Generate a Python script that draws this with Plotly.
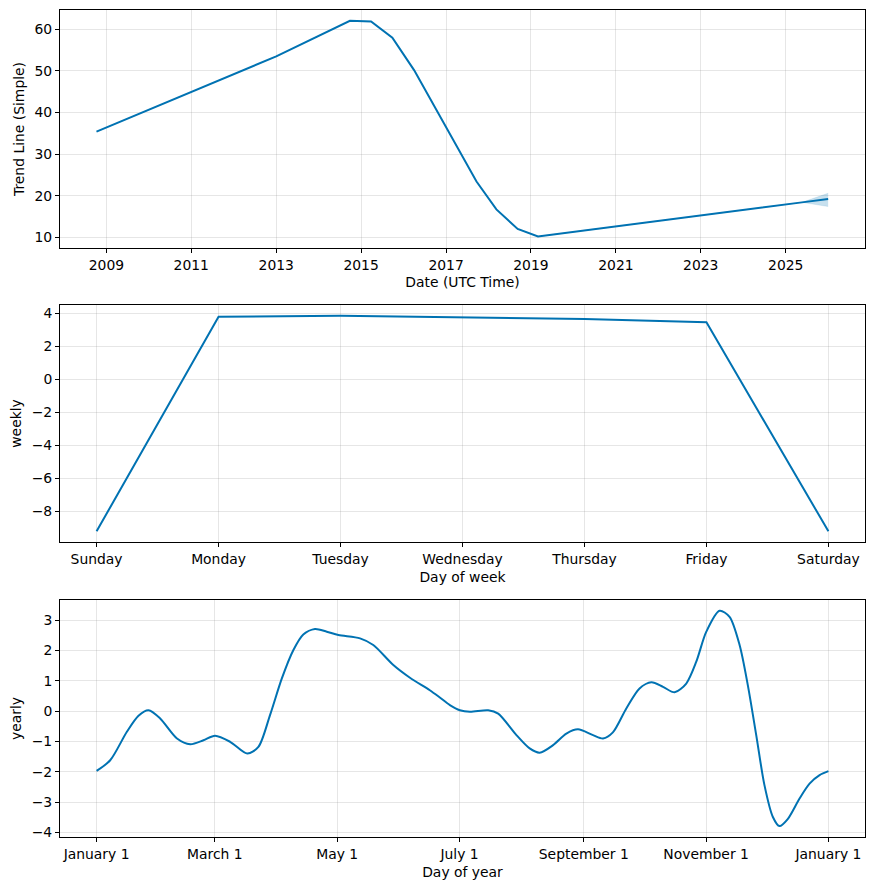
import pandas as pd
import plotly.graph_objects as go
from plotly.subplots import make_subplots

# ---------------- data ----------------
trend_dates = ["2008-10-08", "2013-01-01", "2014-09-27", "2015-03-28", "2015-09-27",
               "2016-04-01", "2017-09-20", "2018-03-10", "2018-09-09", "2019-03-03",
               "2025-05-20", "2026-01-01"]
trend_values = [35.4, 53.5, 62.07, 61.9, 58.0, 50.2, 23.4, 16.7, 12.0, 10.2, 18.4, 19.2]
trend_lower = [35.4, 53.5, 62.07, 61.9, 58.0, 50.2, 23.4, 16.7, 12.0, 10.2, 18.4, 17.4]
trend_upper = [35.4, 53.5, 62.07, 61.9, 58.0, 50.2, 23.4, 16.7, 12.0, 10.2, 18.4, 20.6]
year_ticks = ["2009", "2011", "2013", "2015", "2017", "2019", "2021", "2023", "2025"]

week_days = ["Sunday", "Monday", "Tuesday", "Wednesday", "Thursday", "Friday", "Saturday"]
weekly_values = [-9.22, 3.78, 3.84, 3.74, 3.64, 3.44, -9.22]

yearly_day = [0, 6.8, 15.1, 20.9, 25.9, 31.7, 40.1, 46.7, 53.3, 59.1, 66.6, 75.2, 80.7,
              86.5, 92.4, 98.1, 103.1, 108.9, 114.8, 120.6, 131.4, 138.0, 148.0, 156.3,
              166.2, 171.2, 176.2, 181.2, 186.2, 195.3, 200.3, 209.4, 216.0, 221.0, 227.7,
              234.3, 240.1, 247.6, 252.6, 257.5, 264.2, 270.8, 276.7, 282.5, 288.3, 294.1,
              299.1, 304.1, 310.7, 315.7, 320.7, 324.8, 329.0, 333.1, 337.3, 340.6, 344.7,
              350.6, 355.6, 360.6, 365]
yearly_values = [-1.97, -1.62, -0.68, -0.15, 0.03, -0.24, -0.90, -1.09, -0.96, -0.81, -1.01,
                 -1.40, -1.18, -0.13, 1.08, 2.01, 2.53, 2.71, 2.62, 2.51, 2.40, 2.18, 1.52,
                 1.10, 0.69, 0.45, 0.20, 0.03, -0.02, 0.03, -0.08, -0.79, -1.23, -1.37,
                 -1.12, -0.74, -0.60, -0.79, -0.90, -0.70, 0.09, 0.75, 0.95, 0.80, 0.62,
                 0.91, 1.63, 2.62, 3.31, 3.11, 2.18, 0.86, -0.79, -2.44, -3.49, -3.79,
                 -3.56, -2.88, -2.39, -2.11, -1.98]
month_labels = ["January 1", "March 1", "May 1", "July 1", "September 1", "November 1", "January 1"]
month_tick_dates = ["2017-01-01", "2017-03-01", "2017-05-01", "2017-07-01", "2017-09-01",
                    "2017-11-01", "2018-01-01"]

# ---------------- figure ----------------
BLUE = "#0072B2"
BAND = "rgba(0,114,178,0.22)"
GRID = "rgba(128,128,128,0.2)"
FONT = dict(family="DejaVu Sans", size=13.9, color="black")

fig = make_subplots(rows=3, cols=1)
H = 827.0
fig.update_layout(
    yaxis=dict(domain=[589 / H, 1.0]),
    yaxis2=dict(domain=[295 / H, 532 / H]),
    yaxis3=dict(domain=[0.0, 237 / H]),
)

# trend
fig.add_trace(go.Scatter(x=trend_dates, y=trend_upper, mode="lines",
                         line=dict(width=0.5, color=BAND), hoverinfo="skip",
                         showlegend=False), row=1, col=1)
fig.add_trace(go.Scatter(x=trend_dates, y=trend_lower, mode="lines",
                         line=dict(width=0.5, color=BAND), fill="tonexty",
                         fillcolor=BAND, hoverinfo="skip", showlegend=False), row=1, col=1)
fig.add_trace(go.Scatter(x=trend_dates, y=trend_values, mode="lines",
                         line=dict(width=2, color=BLUE), showlegend=False), row=1, col=1)

# weekly
fig.add_trace(go.Scatter(x=list(range(len(week_days))), y=weekly_values, mode="lines",
                         line=dict(width=2, color=BLUE), showlegend=False), row=2, col=1)

# yearly
yearly_dates = [pd.Timestamp("2017-01-01") + pd.Timedelta(days=d) for d in yearly_day]
fig.add_trace(go.Scatter(x=yearly_dates, y=yearly_values, mode="lines",
                         line=dict(width=2, color=BLUE, shape="spline", smoothing=0.8),
                         showlegend=False), row=3, col=1)

common = dict(showline=True, linecolor="black", linewidth=1, mirror=True,
              ticks="outside", ticklen=4, tickcolor="black", tickwidth=1,
              showgrid=True, gridcolor=GRID, gridwidth=1, zeroline=False,
              tickfont=FONT, title_font=FONT, automargin=False)
fig.update_xaxes(**common)
fig.update_yaxes(**common)

fig.update_xaxes(row=1, col=1, type="date", range=["2007-11-29", "2026-11-14"],
                 tickvals=[f"{y}-01-01" for y in year_ticks], ticktext=year_ticks,
                 title_text="Date (UTC Time)", title_standoff=5)
fig.update_yaxes(row=1, col=1, range=[7.43, 64.65], tickvals=[10, 20, 30, 40, 50, 60],
                 title_text="Trend Line (Simple)", title_standoff=6)

fig.update_xaxes(row=2, col=1, range=[-0.3, 6.3], tickvals=list(range(7)),
                 ticktext=week_days, title_text="Day of week", title_standoff=6)
fig.update_yaxes(row=2, col=1, range=[-9.87, 4.49], tickvals=[-8, -6, -4, -2, 0, 2, 4],
                 title_text="weekly", title_standoff=6)

fig.update_xaxes(row=3, col=1, type="date", range=["2016-12-13 18:00", "2018-01-19 06:00"],
                 tickvals=month_tick_dates, ticktext=month_labels,
                 title_text="Day of year", title_standoff=6)
fig.update_yaxes(row=3, col=1, range=[-4.15, 3.665], tickvals=[-4, -3, -2, -1, 0, 1, 2, 3],
                 title_text="yearly", title_standoff=6)

fig.update_layout(width=873, height=890, margin=dict(l=60, r=8, t=10, b=53),
                  paper_bgcolor="white", plot_bgcolor="white", font=FONT,
                  showlegend=False)

fig.write_html("out.html", config={"displayModeBar": False},
               post_script="document.body.style.margin='0';document.body.style.padding='0';")
